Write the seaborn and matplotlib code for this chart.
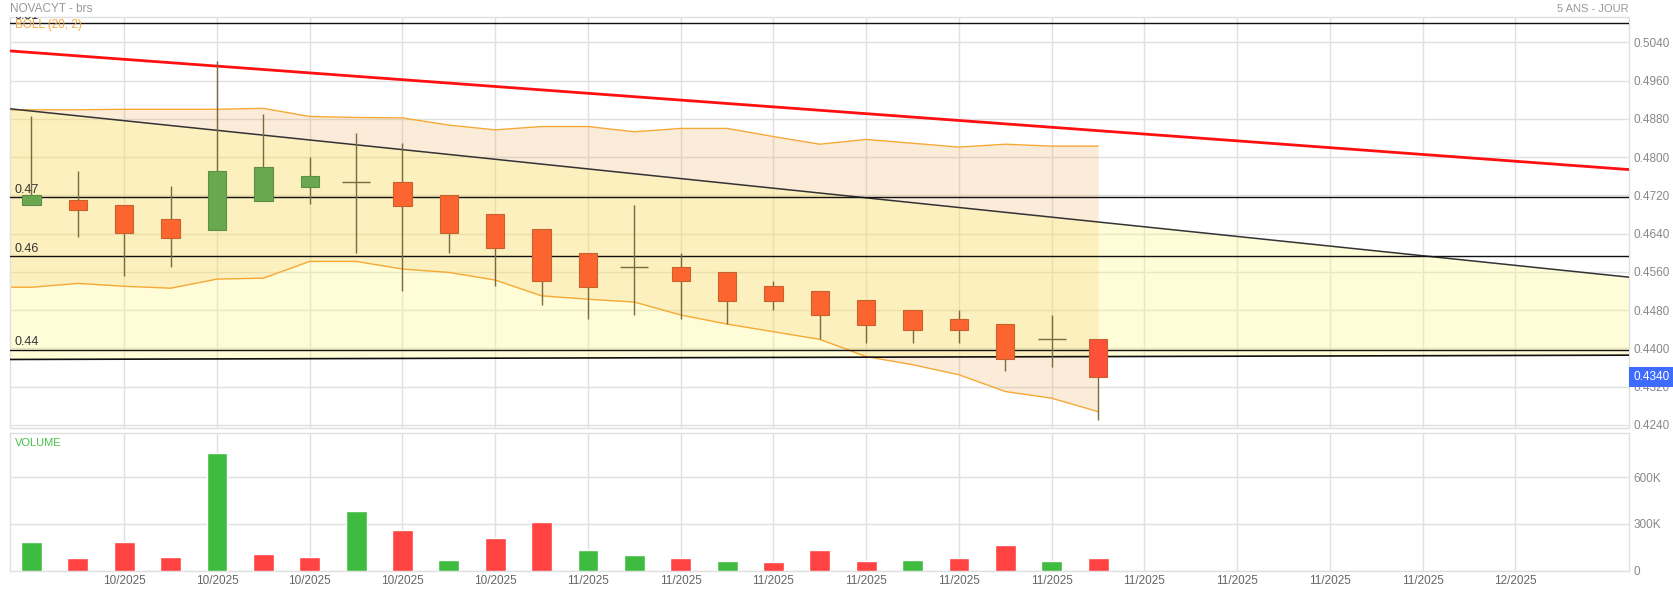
import numpy as np
import pandas as pd
import matplotlib
matplotlib.use("Agg")
import matplotlib.pyplot as plt
import seaborn as sns

# ------------------------------------------------------------------------------
# data (oct-nov 2025)
# ------------------------------------------------------------------------------

opens  = [0.4699, 0.4710, 0.4699, 0.4670, 0.4648, 0.4709, 0.4738, 0.4749,
          0.4749, 0.4720, 0.4681, 0.4649, 0.4599, 0.4570, 0.4570, 0.4559,
          0.4530, 0.4520, 0.4501, 0.4480, 0.4461, 0.4451, 0.4419, 0.4419]
highs  = [0.4886, 0.4770, 0.4699, 0.4740, 0.5001, 0.4890, 0.4800, 0.4850,
          0.4829, 0.4720, 0.4681, 0.4649, 0.4599, 0.4700, 0.4599, 0.4559,
          0.4541, 0.4520, 0.4501, 0.4480, 0.4480, 0.4451, 0.4470, 0.4419]
lows   = [0.4699, 0.4632, 0.4552, 0.4571, 0.4648, 0.4709, 0.4701, 0.4600,
          0.4521, 0.4600, 0.4531, 0.4491, 0.4462, 0.4470, 0.4462, 0.4451,
          0.4480, 0.4420, 0.4412, 0.4412, 0.4412, 0.4352, 0.4362, 0.4251]
closes = [0.4720, 0.4689, 0.4641, 0.4630, 0.4770, 0.4779, 0.4760, 0.4749,
          0.4698, 0.4641, 0.4609, 0.4540, 0.4529, 0.4570, 0.4540, 0.4500,
          0.4500, 0.4469, 0.4450, 0.4439, 0.4439, 0.4379, 0.4419, 0.4340]

# bollinger (20, 2) - first value is the day before the visible window
boll_days  = list(range(-1, 24))
boll_upper = [0.4898, 0.4899, 0.4899, 0.4900, 0.4900, 0.4900, 0.4902, 0.4885,
              0.4883, 0.4882, 0.4867, 0.4857, 0.4864, 0.4864, 0.4853, 0.4860,
              0.4860, 0.4843, 0.4827, 0.4837, 0.4829, 0.4821, 0.4827, 0.4823,
              0.4823]
boll_lower = [0.4528, 0.4528, 0.4536, 0.4530, 0.4526, 0.4545, 0.4547, 0.4582,
              0.4582, 0.4566, 0.4559, 0.4543, 0.4510, 0.4503, 0.4497, 0.4470,
              0.4451, 0.4435, 0.4419, 0.4383, 0.4366, 0.4345, 0.4310, 0.4296,
              0.4268]

volumes = [184e3, 82e3, 182e3, 88e3, 756e3, 107e3, 88e3, 381e3,
           261e3, 68e3, 210e3, 313e3, 133e3, 99e3, 82e3, 60e3,
           56e3, 133e3, 62e3, 68e3, 82e3, 163e3, 62e3, 82e3]
vol_dir = ['up', 'down', 'down', 'down', 'up', 'down', 'down', 'up',
           'down', 'up', 'down', 'down', 'up', 'up', 'down', 'up',
           'down', 'down', 'down', 'up', 'down', 'down', 'up', 'down']

date_ticks  = list(range(2, 33, 2))
date_labels = ['10/2025'] * 5 + ['11/2025'] * 10 + ['12/2025']

# drawn levels and trend lines
levels       = [0.5080, 0.4716, 0.4593, 0.4397]
level_labels = ['0.51', '0.47', '0.46', '0.44']
trend_x      = [-0.46, 34.45]
red_trend    = [0.5022, 0.4774]
black_trend  = [0.4901, 0.4549]
flat_trend   = [0.4377, 0.4386]
last_price   = 0.4340

price_ticks = [0.4240, 0.4320, 0.4400, 0.4480, 0.4560, 0.4640,
               0.4720, 0.4800, 0.4880, 0.4960, 0.5040]
vol_ticks   = [0, 300e3, 600e3]
vol_labels  = ['0', '300K', '600K']

# ------------------------------------------------------------------------------
# figure
# ------------------------------------------------------------------------------

sns.set_theme(style='white')
plt.rcParams['font.family'] = ['Liberation Sans', 'DejaVu Sans']

fig = plt.figure(figsize=(16.74, 5.91), dpi=100)
ax = fig.add_axes([0.00615, 0.2753, 0.9670, 0.6954])
axv = fig.add_axes([0.00615, 0.03435, 0.9670, 0.2325])

grid_c = '#e0e0e0'
xlim = (-0.457, 34.45)

# fills: bollinger band + descending channel
ax.fill_between(boll_days, boll_lower, boll_upper, color='#eba041', alpha=0.2, lw=0, zorder=1)
ax.fill_between(trend_x, flat_trend, black_trend, color='#fffb80', alpha=0.3, lw=0, zorder=1.1)
ax.plot(boll_days, boll_upper, color='#f6a936', lw=1, zorder=2)
ax.plot(boll_days, boll_lower, color='#f6a936', lw=1, zorder=2)

# trend lines and levels
ax.plot(trend_x, red_trend, color='#ff1010', lw=2, zorder=3)
ax.plot(trend_x, black_trend, color='#333333', lw=1.1, zorder=3)
ax.plot(trend_x, flat_trend, color='#111111', lw=1.2, zorder=3)
for lv, lab in zip(levels, level_labels):
    ax.axhline(lv, color='#111111', lw=1, zorder=3)
    ax.text(0.0029, lv + 0.0003, lab, transform=ax.get_yaxis_transform(),
            ha='left', va='bottom', fontsize=9, color='#333333', clip_on=True, zorder=6)

# candles
idx = np.arange(len(opens))
wick_c = '#7a6b3f'
ax.vlines(idx, lows, highs, color=wick_c, lw=1, zorder=4)
for i, o, c in zip(idx, opens, closes):
    if abs(c - o) < 1e-6:
        ax.hlines(o, i - 0.3, i + 0.3, color=wick_c, lw=1, zorder=5)
        continue
    up = c > o
    body = '#6aa84f' if up else '#fd6530'
    if i == idx[-1]:
        body = '#ff503a'  # live candle is drawn redder
    ax.bar(i, abs(c - o), bottom=min(o, c), width=0.395, color=body,
           edgecolor='#5b8f43' if up else '#c7622d', lw=0.8, zorder=5)

# volume bars
df_vol = pd.DataFrame({'day': idx, 'volume': volumes, 'dir': vol_dir})
sns.barplot(data=df_vol, x='day', y='volume', hue='dir', dodge=False,
            palette={'up': '#3fbc3f', 'down': '#ff4242'}, width=0.45,
            native_scale=True, legend=False, errorbar=None, saturation=1,
            ax=axv, zorder=3)
axv.set_xlabel(None)
axv.set_ylabel(None)

# axes params
for a in (ax, axv):
    a.set_xlim(*xlim)
    a.set_xticks(date_ticks)
    a.yaxis.tick_right()
    a.tick_params(length=0, labelsize=8.5, labelcolor='#888888')
    a.grid(True, color=grid_c, lw=1, zorder=0)
    a.set_axisbelow(True)
    for s in a.spines.values():
        s.set_color(grid_c)
        s.set_linewidth(1)

ax.set_ylim(0.42331, 0.50923)
ax.set_yticks(price_ticks)
ax.set_yticklabels([f'{v:.4f}' for v in price_ticks])
ax.set_xticklabels([])
ax.tick_params(axis='y', pad=3)

axv.set_ylim(0, 882e3)
axv.set_yticks(vol_ticks)
axv.set_yticklabels(vol_labels)
axv.set_xticklabels(date_labels)
axv.tick_params(axis='x', pad=3, labelcolor='#666666')
axv.tick_params(axis='y', pad=3)

# titles / legends
fig.text(0.006, 0.9843, 'NOVACYT - brs', ha='left', va='center', fontsize=8.5, color='#999999')
fig.text(0.9731, 0.9843, '5 ANS - JOUR', ha='right', va='center', fontsize=8, color='#999999')
ax.text(0.0029, 0.981, 'BOLL (20, 2)', transform=ax.transAxes, ha='left', va='center',
        fontsize=8.5, color='#f5a742', zorder=6)
axv.text(0.0029, 0.93, 'VOLUME', transform=axv.transAxes, ha='left', va='center',
         fontsize=8, color='#45c045', zorder=6)

# last price tag
ax.annotate(f'{last_price:.4f}', xy=(1.0, last_price), xycoords=ax.get_yaxis_transform(),
            xytext=(3, 0), textcoords='offset points', ha='left', va='center',
            fontsize=8.5, color='white', zorder=10, annotation_clip=False,
            bbox=dict(boxstyle='square,pad=0.35', fc='#3d6cff', ec='none'))

plt.savefig('out.png', dpi=100)
plt.close()
